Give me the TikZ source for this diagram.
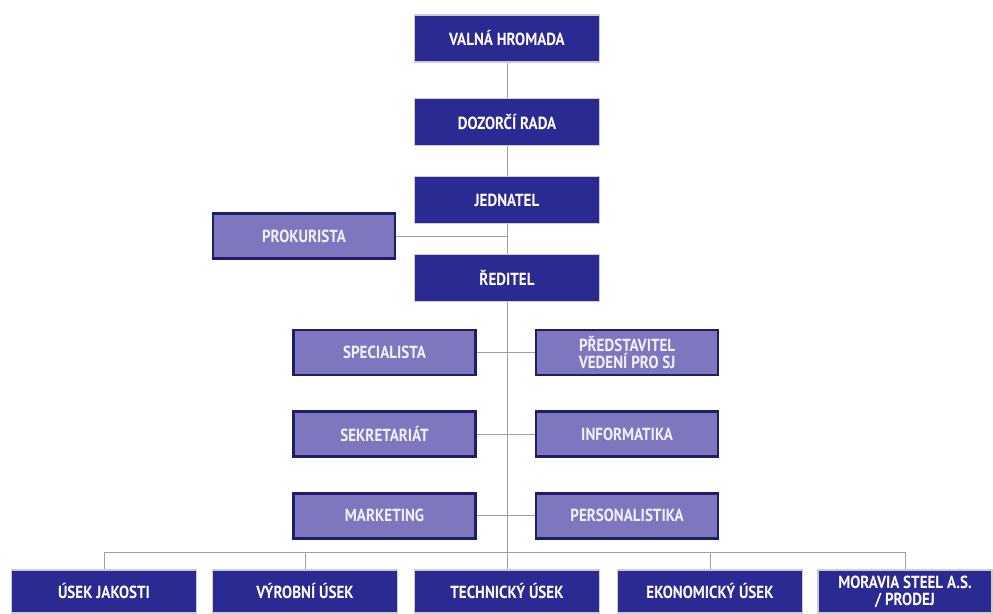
\documentclass[tikz,border=0pt]{standalone}
\usepackage{fontspec}
\newfontfamily\orgfont{PT Sans}[FakeStretch=0.86]
\usetikzlibrary{positioning}
\definecolor{navy}{HTML}{2B2A92}
\definecolor{lilac}{HTML}{7E77C0}
\definecolor{navyedge}{HTML}{1E1E66}

\begin{document}
\begin{tikzpicture}[
        x=1pt, y=-1pt,
        font=\orgfont\bfseries\fontsize{17.5}{17}\selectfont,
        node distance=30pt and 58pt,
        % Styles
        block/.style={draw=gray!40, fill=navy, text=white, line width=1.2pt, minimum width=185pt, minimum height=47pt, align=center, inner sep=2pt},
        light_block/.style={block, fill=lilac, draw=navyedge, line width=2.6pt, text=white!90!lilac, minimum width=182pt, minimum height=45pt},
        link/.style={draw=gray!75, line width=0.9pt}
    ]
    \useasboundingbox (0,0) rectangle (993,613);

    % Management chain
    \node[block] (valna) at (507,38.5) {VALNÁ HROMADA};
    \node[block, below=35pt of valna] (dozorci) {DOZORČÍ RADA};
    \node[block, below=30pt of dozorci] (jednatel) {JEDNATEL};
    \node[block, below=30pt of jednatel] (reditel) {ŘEDITEL};
    \node[light_block] (prokurista) at (304,236) {PROKURISTA};
    \draw[link] (valna) -- (dozorci);
    \draw[link] (dozorci) -- (jednatel);
    \draw[link] (jednatel) -- (reditel);
    \draw[link] (prokurista.east) -- (prokurista.east -| jednatel.south);

    % Staff units
    \node[light_block] (specialista) at (384.5,352.5) {SPECIALISTA};
    \node[light_block, right=58pt of specialista] (predstavitel) {PŘEDSTAVITEL\\VEDENÍ PRO SJ};
    \node[light_block, below=34pt of specialista] (sekretariat) {SEKRETARIÁT};
    \node[light_block, right=58pt of sekretariat] (informatika) {INFORMATIKA};
    \node[light_block, below=34pt of sekretariat] (marketing) {MARKETING};
    \node[light_block, right=58pt of marketing] (personalistika) {PERSONALISTIKA};
    \draw[link] (specialista) -- (predstavitel);
    \draw[link] (sekretariat) -- (informatika);
    \draw[link] (marketing) -- (personalistika);

    % Divisions
    \node[block, minimum height=43pt] (jakosti) at (104,591.5) {ÚSEK JAKOSTI};
    \node[block, minimum height=43pt] (vyrobni) at (305,591.5) {VÝROBNÍ ÚSEK};
    \node[block, minimum height=43pt] (technicky) at (507,591.5) {TECHNICKÝ ÚSEK};
    \node[block, minimum height=43pt] (ekonomicky) at (710,591.5) {EKONOMICKÝ ÚSEK};
    \node[block, minimum height=43pt, minimum width=174pt] (moravia) at (905,591.5) {MORAVIA STEEL A.S.\\/ PRODEJ};
    \coordinate (bus) at (507,552);
    \draw[link] (reditel) -- (technicky);
    \draw[link] (jakosti.north) -- (jakosti.north |- bus) -- (moravia.north |- bus) -- (moravia.north);
    \foreach \n in {vyrobni, ekonomicky}
        \draw[link] (\n.north) -- (\n.north |- bus);

\end{tikzpicture}
\end{document}
